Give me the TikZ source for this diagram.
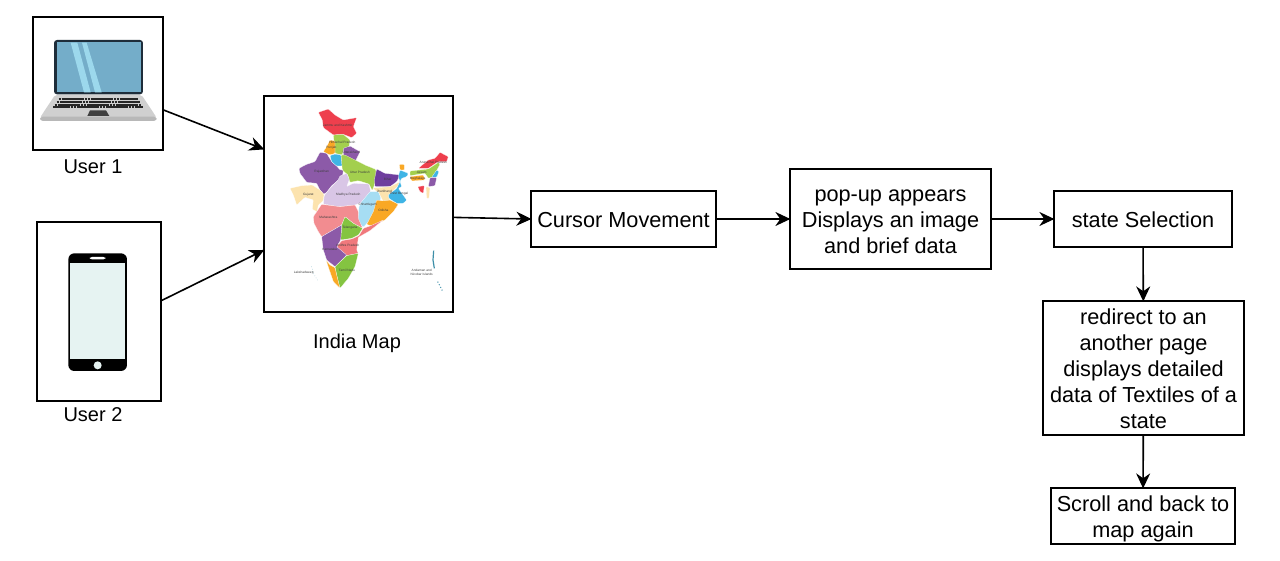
\documentclass[tikz,border=0pt]{standalone}
\usepackage{fontspec}
\setmainfont{Liberation Sans}
\usetikzlibrary{arrows.meta}
\definecolor{mapred}{HTML}{EE3F4D}
\definecolor{mapgreen}{HTML}{A3CF4E}
\definecolor{mapgreenb}{HTML}{84C441}
\definecolor{mappurple}{HTML}{8C5AA8}
\definecolor{mapviolet}{HTML}{6F3E9E}
\definecolor{maporange}{HTML}{F9A825}
\definecolor{mapblue}{HTML}{3FB4E5}
\definecolor{mapsky}{HTML}{A6DDF3}
\definecolor{mapcream}{HTML}{FCE3AE}
\definecolor{maplilac}{HTML}{D9C6E6}
\definecolor{mapsalmon}{HTML}{F28C90}
\definecolor{mapcoral}{HTML}{F0787C}
\definecolor{mapisle}{HTML}{3E8FA8}
\definecolor{laptopscreen}{HTML}{74ADC9}
\definecolor{laptopstripe}{HTML}{9CD8EC}
\definecolor{laptopbezel}{HTML}{1E2D3A}
\definecolor{laptopbase}{HTML}{D0D0D0}
\definecolor{laptoplip}{HTML}{B8B8B8}
\definecolor{phonescreen}{HTML}{E6F3F2}
\newcommand{\liftline}[1]{\rule{0pt}{#1}}
\tikzset{
	flowbox/.style={draw=black,line width=0.8pt,align=center,inner sep=0pt,font=\fontsize{10.85}{13}\selectfont},
	framebox/.style={draw=black,line width=0.8pt,inner sep=0pt},
	caption/.style={inner sep=0pt,font=\fontsize{10}{12}\selectfont},
	flowarrow/.style={draw=black,line width=0.8pt,shorten >=-0.6pt,-{Stealth[length=7.5pt,width=7pt]}},
	region/.style={draw=white,line width=0.1pt,line join=round,rounded corners=0.4pt},
	regionname/.style={inner sep=0pt,align=center,text=black!75,font=\fontsize{1.6}{2}\selectfont}
}
\begin{document}
\begin{tikzpicture}[x=0.5pt,y=-0.5pt]
	\useasboundingbox (0,0) rectangle (1280,561);

	\node[framebox,minimum width=65pt,minimum height=66.5pt] (laptopbox) at (98,83.5) {};
	\node[framebox,minimum width=62pt,minimum height=89.5pt] (phonebox) at (99,311.5) {};
	\node[framebox,minimum width=94.5pt,minimum height=108pt] (mapbox) at (358.5,204) {};

	\node[caption] (userone) at (93,167) {User 1};
	\node[caption] (usertwo) at (93,415) {User 2};
	\node[caption] (maplabel) at (357,343) {India Map};

	\node[flowbox,minimum width=92.5pt,minimum height=28pt] (cursor) at (623.5,219) {\liftline{8.6pt}Cursor Movement};
	\node[flowbox,minimum width=100.5pt,minimum height=50pt] (popup) at (890.5,219) {\liftline{8.3pt}pop-up appears\\Displays an image\\and brief data};
	\node[flowbox,minimum width=89pt,minimum height=28pt] (selection) at (1143,219) {\liftline{8.6pt}state Selection};
	\node[flowbox,minimum width=100.5pt,minimum height=67pt] (redirect) at (1143.5,368) {\liftline{8.9pt}redirect to an\\another page\\displays detailed\\data of Textiles of a\\state};
	\node[flowbox,minimum width=92pt,minimum height=28pt] (scroll) at (1143,516) {\liftline{10.4pt}Scroll and back to\\map again};

	\draw[flowarrow] (laptopbox.-22) -- (mapbox.150.3);
	\draw[flowarrow] (phonebox.10.5) -- (mapbox.206);
	\draw[flowarrow] (mapbox.-8.4) -- (cursor.west);
	\draw[flowarrow] (cursor) -- (popup);
	\draw[flowarrow] (popup) -- (selection);
	\draw[flowarrow] (selection) -- (redirect);
	\draw[flowarrow] (redirect) -- (scroll);

	\begin{scope}[shift={(20,5)},scale=1/3]
		\fill[laptopbase,rounded corners=1pt] (105,270) -- (365,270) -- (410,338) -- (60,338) -- cycle;
		\fill[laptoplip,rounded corners=1.5pt] (60,335) rectangle (410,348);
		\foreach \rowy/\rowa/\rowb in {283/116/354,291/110/360,299/104/364,306/100/368} {
			\draw[black!85,line width=0.9pt,dash pattern=on 1.3pt off 0.15pt] (\rowa,\rowy) -- (\rowb,\rowy);
		}
		\fill[black!75] (210,316) -- (258,316) -- (268,333) -- (202,333) -- cycle;
		\fill[laptopbezel,rounded corners=1.5pt] (102,105) rectangle (369,268);
		\fill[laptopscreen] (110,112) rectangle (362,262);
		\fill[laptopstripe] (152,113) -- (172,113) -- (212,262) -- (192,262) -- cycle;
		\fill[laptopstripe] (186,113) -- (200,113) -- (245,262) -- (225,262) -- cycle;
	\end{scope}

	\begin{scope}[shift={(25,215)},scale=1/3]
		\fill[black,rounded corners=3pt] (130,115) rectangle (306,468);
		\fill[phonescreen] (135,145) rectangle (301,433);
		\fill[white,rounded corners=1pt] (195,126) rectangle (241,133);
		\fill[phonescreen] (218,451) circle (12);
	\end{scope}

	\begin{scope}[shift={(255,90)},scale=1/3]
		\filldraw[region,fill=mapred] (190,67) -- (220,57) -- (240,75) -- (265,90) -- (305,83) -- (295,110) -- (305,130) -- (290,143) -- (265,133) -- (235,135) -- (205,113) -- (202,90) -- cycle;
		\filldraw[region,fill=mapgreen] (235,135) -- (265,133) -- (285,150) -- (282,170) -- (265,180) -- (262,195) -- (240,190) -- (238,165) -- cycle;
		\filldraw[region,fill=maporange] (215,170) -- (225,150) -- (240,153) -- (240,190) -- (225,195) -- (205,185) -- cycle;
		\filldraw[region,fill=mappurple] (265,175) -- (285,168) -- (315,185) -- (302,212) -- (265,197) -- cycle;
		\filldraw[region,fill=mappurple] (215,190) -- (230,215) -- (245,228) -- (255,240) -- (265,240) -- (262,262) -- (248,272) -- (230,287) -- (215,307) -- (205,313) -- (195,300) -- (185,280) -- (155,277) -- (135,250) -- (132,235) -- (155,223) -- (180,215) -- (195,187) -- cycle;
		\filldraw[region,fill=mapblue] (225,197) -- (240,192) -- (258,195) -- (262,228) -- (245,228) -- (230,215) -- cycle;
		\filldraw[region,fill=mapgreen] (258,195) -- (270,195) -- (300,210) -- (330,225) -- (362,238) -- (365,265) -- (352,302) -- (342,282) -- (310,272) -- (285,277) -- (278,255) -- (262,240) -- (260,215) -- cycle;
		\filldraw[region,fill=mapviolet] (365,237) -- (390,250) -- (435,255) -- (425,275) -- (405,290) -- (360,290) -- (358,270) -- cycle;
		\filldraw[region,fill=mapcream] (352,294) -- (405,290) -- (435,275) -- (430,287) -- (422,295) -- (400,315) -- (405,332) -- (385,335) -- (372,310) -- cycle;
		\filldraw[region,fill=mapblue] (435,240) -- (460,250) -- (455,260) -- (440,265) -- (435,275) -- (440,290) -- (430,295) -- (455,330) -- (445,340) -- (425,340) -- (402,325) -- (400,315) -- (425,295) -- (435,275) -- (430,260) -- cycle;
		\filldraw[region,fill=maporange] (433,223) -- (448,223) -- (448,240) -- (435,240) -- cycle;
		\filldraw[region,fill=mapcream] (105,295) -- (140,287) -- (172,285) -- (195,300) -- (207,313) -- (205,332) -- (190,345) -- (186,365) -- (172,358) -- (175,330) -- (150,322) -- (125,345) -- (115,315) -- cycle;
		\filldraw[region,fill=maplilac] (205,342) -- (208,316) -- (225,295) -- (248,272) -- (255,258) -- (275,250) -- (283,268) -- (275,290) -- (295,280) -- (342,282) -- (347,305) -- (320,337) -- (300,345) -- (250,350) -- cycle;
		\filldraw[region,fill=mapsky] (345,305) -- (370,305) -- (378,325) -- (358,365) -- (345,390) -- (325,412) -- (308,395) -- (312,350) -- (320,335) -- cycle;
		\filldraw[region,fill=maporange] (365,330) -- (385,333) -- (405,330) -- (430,343) -- (415,365) -- (390,390) -- (350,408) -- (335,403) -- (355,365) -- cycle;
		\filldraw[region,fill=mapsalmon] (175,380) -- (200,343) -- (255,350) -- (300,345) -- (310,365) -- (310,385) -- (323,415) -- (295,400) -- (270,380) -- (260,405) -- (200,440) -- (190,425) -- (177,400) -- cycle;
		\filldraw[region,fill=mapgreenb] (270,380) -- (295,400) -- (323,415) -- (310,435) -- (290,445) -- (257,450) -- (260,405) -- cycle;
		\filldraw[region,fill=mapcoral] (385,390) -- (345,422) -- (310,442) -- (305,480) -- (310,490) -- (275,497) -- (245,470) -- (260,452) -- (290,447) -- (312,437) -- (325,415) -- (345,408) -- cycle;
		\filldraw[region,fill=mappurple] (200,440) -- (260,405) -- (257,450) -- (245,470) -- (275,495) -- (240,530) -- (215,510) -- (205,480) -- cycle;
		\filldraw[region,fill=mapgreenb] (275,497) -- (310,490) -- (300,530) -- (280,565) -- (255,595) -- (245,555) -- (240,530) -- cycle;
		\filldraw[region,fill=maporange] (213,510) -- (225,525) -- (240,533) -- (245,555) -- (255,595) -- (235,575) -- cycle;
		\filldraw[region,fill=mapred] (490,235) -- (520,210) -- (540,205) -- (555,187) -- (580,200) -- (575,215) -- (550,215) -- (535,225) -- (520,235) -- cycle;
		\filldraw[region,fill=mapgreen] (465,243) -- (520,237) -- (535,227) -- (550,217) -- (555,223) -- (535,260) -- (520,265) -- (510,250) -- (465,257) -- cycle;
		\filldraw[region,fill=maporange] (465,260) -- (505,255) -- (510,270) -- (470,273) -- cycle;
		\filldraw[region,fill=mapblue] (545,240) -- (552,245) -- (545,262) -- (530,262) -- cycle;
		\filldraw[region,fill=mappurple] (525,263) -- (545,263) -- (540,287) -- (520,290) -- cycle;
		\filldraw[region,fill=mapred] (488,290) -- (508,287) -- (505,310) -- (495,305) -- cycle;
		\filldraw[region,fill=mapcream] (513,290) -- (525,293) -- (522,325) -- (515,325) -- cycle;
		\draw[mapisle,line width=0.6pt] (536,482) -- (534,510) -- (538,535);
		\draw[mapisle,line width=0.5pt,densely dotted] (548,575) -- (556,590) -- (564,606);
		\draw[mapisle,line width=0.2pt,densely dotted] (170,530) -- (175,550) -- (190,575);
		\node[regionname] (namejk) at (248,106) {Jammu and Kashmir};
		\node[regionname] (namehp) at (262,156) {Himachal Pradesh};
		\node[regionname] (namepb) at (229,172) {Punjab};
		\node[regionname] (nameuk) at (289,186) {Uttarakhand};
		\node[regionname] (namerj) at (200,246) {Rajasthan};
		\node[regionname] (nameup) at (315,248) {Uttar Pradesh};
		\node[regionname] (namebr) at (398,268) {Bihar};
		\node[regionname] (namejh) at (388,304) {Jharkhand};
		\node[regionname] (namewb) at (432,311) {West Bengal};
		\node[regionname] (namegj) at (160,314) {Gujarat};
		\node[regionname] (namemp) at (280,315) {Madhya Pradesh};
		\node[regionname] (namecg) at (338,343) {Chhattisgarh};
		\node[regionname] (nameod) at (385,361) {Odisha};
		\node[regionname] (namemh) at (220,382) {Maharashtra};
		\node[regionname] (namets) at (285,412) {Telangana};
		\node[regionname] (nameap) at (278,467) {Andhra Pradesh};
		\node[regionname] (nameka) at (224,478) {Karnataka};
		\node[regionname] (nametn) at (276,542) {Tamil Nadu};
		\node[regionname] (nameas) at (500,246) {Assam};
		\node[regionname] (nameml) at (488,265) {Meghalaya};
		\node[regionname] (namear) at (535,218) {Arunachal Pradesh};
		\node[regionname] (namela) at (146,548) {Lakshadweep};
		\node[regionname] (namean) at (500,548) {Andaman and\\Nicobar Islands};
	\end{scope}
\end{tikzpicture}
\end{document}
